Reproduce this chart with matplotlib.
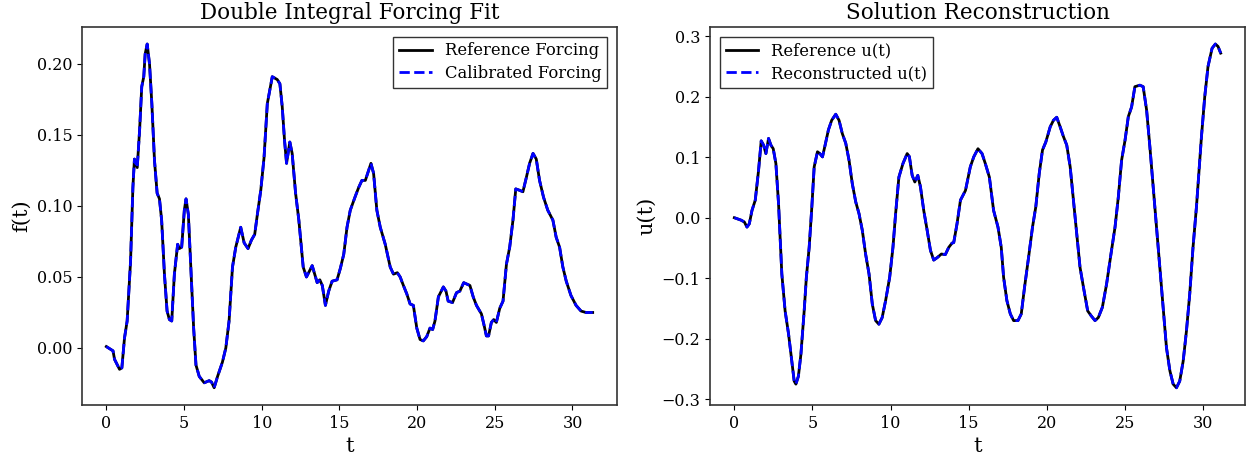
import matplotlib as mpl
import matplotlib.pyplot as plt

# forcing f(t)
T_F = [0.0, 0.43, 0.53, 0.85, 1.0, 1.17, 1.34, 1.56, 1.71, 1.81, 1.99, 2.14, 2.28, 2.41,
       2.5, 2.63, 2.78, 2.93, 3.1, 3.27, 3.42, 3.56, 3.74, 3.91, 4.06, 4.21, 4.38, 4.59,
       4.7, 4.85, 5.02, 5.13, 5.28, 5.45, 5.62, 5.77, 5.98, 6.3, 6.62, 6.77, 6.94, 7.16,
       7.47, 7.69, 7.9, 8.12, 8.33, 8.65, 8.87, 9.12, 9.34, 9.55, 9.72, 9.94, 10.15,
       10.36, 10.68, 11.0, 11.17, 11.32, 11.47, 11.6, 11.81, 11.96, 12.18, 12.39, 12.67,
       12.88, 13.25, 13.57, 13.74, 13.9, 14.1, 14.31, 14.53, 14.85, 15.06, 15.28, 15.49,
       15.7, 16.03, 16.24, 16.45, 16.67, 17.03, 17.2, 17.41, 17.63, 17.95, 18.27, 18.48,
       18.73, 18.91, 19.12, 19.34, 19.55, 19.76, 19.98, 20.19, 20.4, 20.62, 20.83, 21.0,
       21.15, 21.37, 21.69, 21.86, 22.0, 22.28, 22.54, 22.75, 23.0, 23.4, 23.61, 23.82,
       24.14, 24.29, 24.46, 24.6, 24.78, 24.93, 25.1, 25.32, 25.53, 25.75, 25.96, 26.17,
       26.35, 26.6, 26.81, 27.03, 27.24, 27.46, 27.67, 27.88, 28.14, 28.41, 28.74, 28.95,
       29.17, 29.38, 29.6, 29.9, 30.23, 30.55, 30.87, 31.3]
F_REF = [0.001, -0.002, -0.008, -0.015, -0.014, 0.007, 0.019, 0.061, 0.113, 0.133, 0.127,
         0.153, 0.184, 0.191, 0.207, 0.214, 0.200, 0.172, 0.132, 0.109, 0.105, 0.090,
         0.052, 0.026, 0.020, 0.019, 0.052, 0.073, 0.070, 0.071, 0.097, 0.105, 0.094,
         0.054, 0.014, -0.012, -0.020, -0.0245, -0.023, -0.024, -0.028, -0.020, -0.010,
         0.000, 0.019, 0.057, 0.071, 0.085, 0.074, 0.070, 0.076, 0.080, 0.094, 0.111,
         0.134, 0.172, 0.191, 0.189, 0.186, 0.170, 0.146, 0.130, 0.145, 0.137, 0.109,
         0.090, 0.057, 0.050, 0.058, 0.046, 0.048, 0.044, 0.030, 0.040, 0.047, 0.048,
         0.056, 0.066, 0.085, 0.097, 0.107, 0.113, 0.118, 0.118, 0.130, 0.123, 0.097,
         0.085, 0.073, 0.057, 0.052, 0.053, 0.050, 0.044, 0.038, 0.031, 0.030, 0.014,
         0.006, 0.005, 0.008, 0.014, 0.013, 0.019, 0.036, 0.043, 0.040, 0.033, 0.032,
         0.039, 0.040, 0.046, 0.044, 0.036, 0.030, 0.024, 0.017, 0.0085, 0.0085, 0.018,
         0.020, 0.018, 0.028, 0.033, 0.059, 0.071, 0.090, 0.112, 0.111, 0.110, 0.120,
         0.130, 0.137, 0.133, 0.118, 0.106, 0.097, 0.090, 0.078, 0.071, 0.057, 0.047,
         0.037, 0.030, 0.026, 0.025, 0.025]
F_CAL = F_REF  # calibrated forcing sits on top of the reference

# solution u(t)
T_U = [0.0, 0.43, 0.64, 0.81, 0.96, 1.13, 1.34, 1.55, 1.72, 1.87, 2.02, 2.19, 2.34, 2.49,
       2.66, 2.83, 3.04, 3.25, 3.47, 3.68, 3.83, 3.94, 4.1, 4.26, 4.47, 4.61, 4.79, 4.96,
       5.11, 5.32, 5.47, 5.64, 5.81, 6.02, 6.23, 6.49, 6.7, 6.91, 7.13, 7.34, 7.55, 7.77,
       7.98, 8.19, 8.4, 8.62, 8.83, 9.04, 9.25, 9.46, 9.68, 9.94, 10.15, 10.32, 10.53,
       10.79, 11.06, 11.2, 11.38, 11.55, 11.74, 11.91, 12.12, 12.34, 12.55, 12.76, 12.98,
       13.25, 13.5, 13.72, 13.93, 14.04, 14.25, 14.47, 14.79, 15.1, 15.32, 15.59, 15.85,
       16.06, 16.32, 16.59, 16.87, 17.08, 17.23, 17.44, 17.66, 17.87, 18.15, 18.36, 18.57,
       18.83, 19.08, 19.29, 19.51, 19.72, 19.93, 20.21, 20.42, 20.63, 20.85, 21.06, 21.27,
       21.49, 21.7, 21.91, 22.12, 22.34, 22.61, 22.83, 23.08, 23.29, 23.55, 23.82, 24.1,
       24.36, 24.57, 24.78, 25.0, 25.21, 25.42, 25.63, 25.95, 26.16, 26.38, 26.59, 26.8,
       27.01, 27.23, 27.44, 27.65, 27.87, 28.08, 28.29, 28.5, 28.72, 28.93, 29.14, 29.35,
       29.57, 29.72, 29.89, 30.1, 30.31, 30.57, 30.78, 30.95, 31.12]
U_REF = [0.0, -0.004, -0.007, -0.0155, -0.010, 0.012, 0.029, 0.078, 0.127, 0.120, 0.106,
         0.131, 0.120, 0.114, 0.0895, 0.023, -0.093, -0.154, -0.192, -0.237, -0.270,
         -0.275, -0.262, -0.226, -0.154, -0.0985, -0.049, 0.018, 0.084, 0.109, 0.106,
         0.1005, 0.120, 0.145, 0.161, 0.171, 0.161, 0.139, 0.123, 0.095, 0.056, 0.026,
         0.0066, -0.021, -0.060, -0.093, -0.143, -0.170, -0.176, -0.165, -0.137, -0.0985,
         -0.049, 0.0066, 0.067, 0.0895, 0.106, 0.101, 0.070, 0.059, 0.070, 0.051, 0.012,
         -0.021, -0.054, -0.070, -0.066, -0.060, -0.061, -0.049, -0.042, -0.041, -0.010,
         0.029, 0.045, 0.084, 0.1005, 0.114, 0.106, 0.0895, 0.067, 0.012, -0.0155, -0.049,
         -0.0985, -0.137, -0.159, -0.170, -0.170, -0.159, -0.115, -0.065, -0.0155, 0.018,
         0.073, 0.112, 0.125, 0.150, 0.161, 0.166, 0.150, 0.134, 0.120, 0.084, 0.029,
         -0.0265, -0.082, -0.115, -0.154, -0.162, -0.170, -0.165, -0.148, -0.1095, -0.060,
         -0.0155, 0.034, 0.095, 0.128, 0.167, 0.183, 0.2165, 0.219, 0.2165, 0.178, 0.117,
         0.051, -0.0155, -0.082, -0.148, -0.2145, -0.253, -0.275, -0.281, -0.270, -0.237,
         -0.187, -0.126, -0.049, 0.018, 0.073, 0.134, 0.200, 0.250, 0.280, 0.287, 0.283,
         0.272]
U_REC = U_REF

mpl.rcParams.update({
    "font.family": "serif",
    "font.serif": ["DejaVu Serif"],
    "xtick.labelsize": 11.5,
    "ytick.labelsize": 11.5,
    "axes.edgecolor": "0.2",
    "axes.linewidth": 1.2,
})

fig = plt.figure(figsize=(12.5, 4.55), dpi=100)
ax1 = fig.add_axes([0.0656, 0.110, 0.428, 0.831])
ax2 = fig.add_axes([0.568, 0.110, 0.428, 0.831])


def draw(ax, t, ref, fit, lab_ref, lab_fit, ylabel, title, loc):
    ax.plot(t, ref, color="black", lw=2, label=lab_ref)
    ax.plot(t, fit, color="blue", lw=2, ls="--", label=lab_fit)
    ax.set_xlabel("t", fontsize=15)
    ax.set_ylabel(ylabel, fontsize=15)
    ax.set_title(title, fontsize=15.5)
    ax.set_xticks([0, 5, 10, 15, 20, 25, 30])
    ax.legend(loc=loc, fontsize=11.8, fancybox=False, framealpha=1.0,
              edgecolor="0.2", borderaxespad=0.6, borderpad=0.35,
              labelspacing=0.35, handlelength=2.0)


draw(ax1, T_F, F_REF, F_CAL, "Reference Forcing", "Calibrated Forcing",
     "f(t)", "Double Integral Forcing Fit", "upper right")
draw(ax2, T_U, U_REF, U_REC, "Reference u(t)", "Reconstructed u(t)",
     "u(t)", "Solution Reconstruction", "upper left")

fig.savefig("out.png", dpi=100)
